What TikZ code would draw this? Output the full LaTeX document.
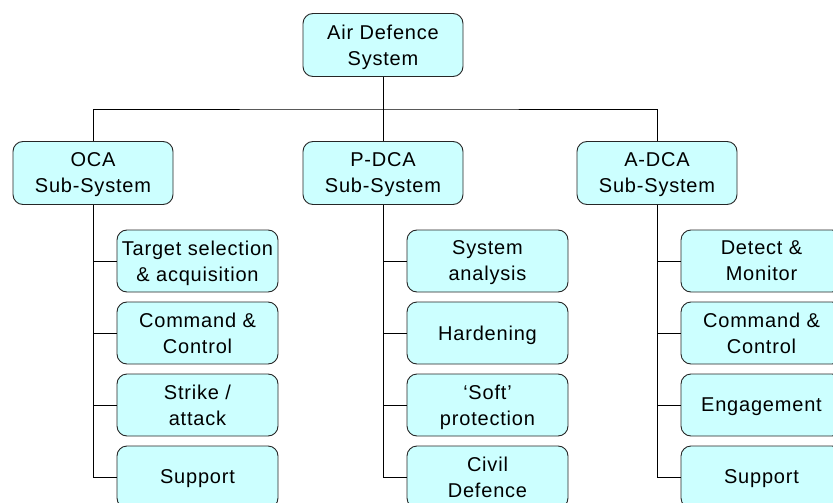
\documentclass[tikz,border=0pt]{standalone}
\usepackage{fontspec}
\setmainfont{Liberation Sans}[LetterSpace=4.0]
\definecolor{boxfill}{RGB}{204,255,255}
\begin{document}
\begin{tikzpicture}[x=1pt,y=-1pt,
  box/.style={draw=black!85, line width=0.9pt, fill=boxfill, rounded corners=10pt,
    minimum width=160pt, minimum height=63pt, inner sep=0pt, align=center,
    text depth=-1pt, font=\fontsize{20}{26}\selectfont},
  leaf/.style={box, minimum width=161pt, minimum height=62pt},
  link/.style={draw=black, line width=0.9pt}]
\useasboundingbox (0,0) rectangle (833,503);
\clip (0,0) rectangle (833,503);

% root and the three sub-systems
\node[box] (ads)  at (383,45)  {Air Defence\\System};
\node[box] (oca)  at (93,173)  {OCA\\Sub-System};
\node[box] (pdca) at (383,173) {P-DCA\\Sub-System};
\node[box] (adca) at (657,173) {A-DCA\\Sub-System};

\coordinate (bus) at (383,109);
\draw[link] (ads.south) -- (bus);
\draw[link] (oca.north) |- (bus) -| (adca.north);
\draw[link] (bus) -- (pdca.north);

% OCA components
\node[leaf] (o1) at (197.5,261) {Target selection\\\& acquisition};
\node[leaf] (o2) at (197.5,333) {Command \&\\Control};
\node[leaf] (o3) at (197.5,405) {Strike /\\attack};
\node[leaf] (o4) at (197.5,477) {Support};

% P-DCA components
\node[leaf] (p1) at (487.5,261) {System\\analysis};
\node[leaf] (p2) at (487.5,333) {Hardening};
\node[leaf] (p3) at (487.5,405) {‘Soft’\\protection};
\node[leaf] (p4) at (487.5,477) {Civil\\Defence};

% A-DCA components
\node[leaf] (a1) at (761.5,261) {Detect \&\\Monitor};
\node[leaf] (a2) at (761.5,333) {Command \&\\Control};
\node[leaf] (a3) at (761.5,405) {Engagement};
\node[leaf] (a4) at (761.5,477) {Support};

% branch lines
\foreach \p/\c in {oca/o, pdca/p, adca/a}{
  \draw[link] (\p.south) |- (\c4.west);
  \foreach \i in {1,2,3}
    \draw[link] (\p.south |- \c\i.west) -- (\c\i.west);
}
\end{tikzpicture}
\end{document}
